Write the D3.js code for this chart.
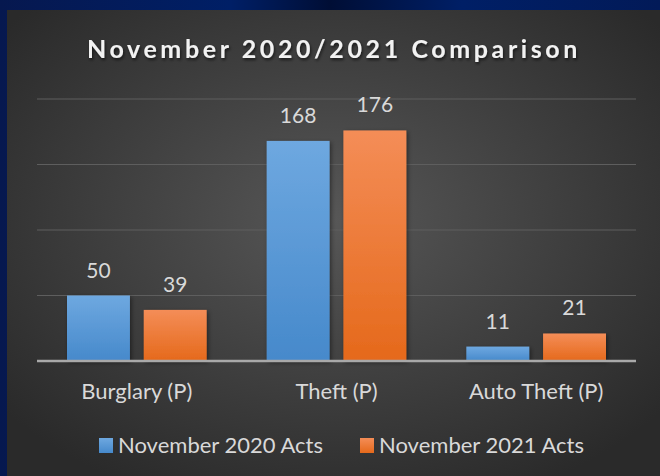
<!DOCTYPE html>
<html>
<head>
<meta charset="utf-8">
<script src="https://cdn.jsdelivr.net/npm/d3@7"></script>
<style>
  html, body { margin: 0; padding: 0; background: #0a1f5c; }
  svg { display: block; }
</style>
</head>
<body>
<svg id="chart" width="660" height="476"></svg>
<script>
// chart data
const categories = ["Burglary (P)", "Theft (P)", "Auto Theft (P)"]
const seriesNames = ["November 2020 Acts", "November 2021 Acts"]
const values2020 = [50, 168, 11]
const values2021 = [39, 176, 21]
const yTicks = [0, 50, 100, 150, 200]

const W = 660, H = 476
const svg = d3.select("#chart")

// plot area in pixels
const plotLeft = 37, plotRight = 636, plotTop = 99, plotBottom = 361

const defs = svg.append("defs")

// outer blue frame
const frame = defs.append("linearGradient").attr("id", "frame").attr("x1", 0).attr("x2", 1)
frame.append("stop").attr("offset", 0).attr("stop-color", "#06184f")
frame.append("stop").attr("offset", 0.35).attr("stop-color", "#001f66")
frame.append("stop").attr("offset", 0.5).attr("stop-color", "#000e35")
frame.append("stop").attr("offset", 0.7).attr("stop-color", "#001f66")
frame.append("stop").attr("offset", 1).attr("stop-color", "#021a58")
svg.append("rect").attr("width", W).attr("height", H).attr("fill", "url(#frame)")

// chart background: dark radial gradient
const bg = defs.append("radialGradient").attr("id", "bg")
  .attr("cx", "50%").attr("cy", "45%").attr("r", "65%")
bg.append("stop").attr("offset", 0).attr("stop-color", "#575757")
bg.append("stop").attr("offset", 1).attr("stop-color", "#2a2a2a")
svg.append("rect").attr("x", 7).attr("y", 10).attr("width", W - 7).attr("height", H - 10)
  .attr("fill", "url(#bg)")

// bar gradients
const colors = [
  { id: "g2020", top: "#6ea8e0", bottom: "#4689cb" },
  { id: "g2021", top: "#f48d57", bottom: "#e5691b" }
]
colors.forEach(c => {
  const g = defs.append("linearGradient").attr("id", c.id).attr("x1", 0).attr("x2", 0).attr("y1", 0).attr("y2", 1)
  g.append("stop").attr("offset", 0).attr("stop-color", c.top)
  g.append("stop").attr("offset", 1).attr("stop-color", c.bottom)
})

const shadow = defs.append("filter").attr("id", "shadow")
  .attr("x", "-20%").attr("y", "-20%").attr("width", "150%").attr("height", "150%")
shadow.append("feDropShadow").attr("dx", 1.5).attr("dy", 1.5).attr("stdDeviation", 2)
  .attr("flood-color", "#000").attr("flood-opacity", 0.45)

const titleShadow = defs.append("filter").attr("id", "tshadow")
titleShadow.append("feDropShadow").attr("dx", 1).attr("dy", 2).attr("stdDeviation", 1.5)
  .attr("flood-color", "#000").attr("flood-opacity", 0.6)

// scales
const x0 = d3.scaleBand().domain(categories).range([plotLeft, plotRight]).padding(0)
const x1 = d3.scaleBand().domain(seriesNames)
  .range([30, x0.bandwidth() - 30]).paddingInner(0.18).paddingOuter(0)
const y = d3.scaleLinear().domain([0, 200]).range([plotBottom, plotTop])

// gridlines
svg.append("g")
  .selectAll("line")
  .data(yTicks.slice(1))
  .join("line")
  .attr("x1", plotLeft).attr("x2", plotRight)
  .attr("y1", d => y(d)).attr("y2", d => y(d))
  .attr("stroke", "#5e5e5e").attr("stroke-width", 1)

const font = "Lato, 'Open Sans', sans-serif"

// bars
const rows = categories.map((c, i) => ({ cat: c, vals: [values2020[i], values2021[i]] }))
const groups = svg.append("g").selectAll("g")
  .data(rows)
  .join("g")
  .attr("transform", d => `translate(${x0(d.cat)},0)`)

groups.selectAll("rect")
  .data(d => d.vals.map((v, j) => ({ name: seriesNames[j], v, j })))
  .join("rect")
  .attr("x", d => x1(d.name))
  .attr("y", d => y(d.v))
  .attr("width", x1.bandwidth())
  .attr("height", d => y(0) - y(d.v))
  .attr("fill", d => `url(#${colors[d.j].id})`)
  .attr("filter", "url(#shadow)")

// value labels
groups.selectAll("text")
  .data(d => d.vals.map((v, j) => ({ name: seriesNames[j], v })))
  .join("text")
  .attr("x", d => x1(d.name) + x1.bandwidth() / 2)
  .attr("y", d => y(d.v) - 18)
  .attr("text-anchor", "middle")
  .attr("font-family", font).attr("font-size", 21)
  .attr("fill", "#d9d9d9")
  .text(d => d.v)

// x axis line
svg.append("line")
  .attr("x1", plotLeft).attr("x2", plotRight)
  .attr("y1", y(0)).attr("y2", y(0))
  .attr("stroke", "#a9a9a9").attr("stroke-width", 2.5)

// category labels
const xAxis = d3.axisBottom(x0).tickSize(0).tickPadding(0)
const xg = svg.append("g").attr("transform", `translate(0,${y(0) + 38})`).call(xAxis)
xg.select(".domain").remove()
xg.selectAll("text")
  .attr("font-family", font).attr("font-size", 22)
  .attr("fill", "#d9d9d9").attr("dy", 0)

// title
svg.append("text")
  .attr("x", 334).attr("y", 58)
  .attr("text-anchor", "middle")
  .attr("font-family", font).attr("font-weight", "bold").attr("font-size", 25)
  .attr("letter-spacing", 3.6)
  .attr("fill", "#f2f2f2")
  .attr("filter", "url(#tshadow)")
  .text("November 2020/2021 Comparison")

// legend
const legendX = [99, 360]
const legend = svg.append("g").selectAll("g")
  .data(seriesNames)
  .join("g")
  .attr("transform", (d, i) => `translate(${legendX[i]},438)`)
legend.append("rect")
  .attr("width", 14).attr("height", 15)
  .attr("fill", (d, i) => `url(#${colors[i].id})`)
legend.append("text")
  .attr("x", 19).attr("y", 15)
  .attr("font-family", font).attr("font-size", 22)
  .attr("fill", "#d9d9d9")
  .text(d => d)
</script>
</body>
</html>
